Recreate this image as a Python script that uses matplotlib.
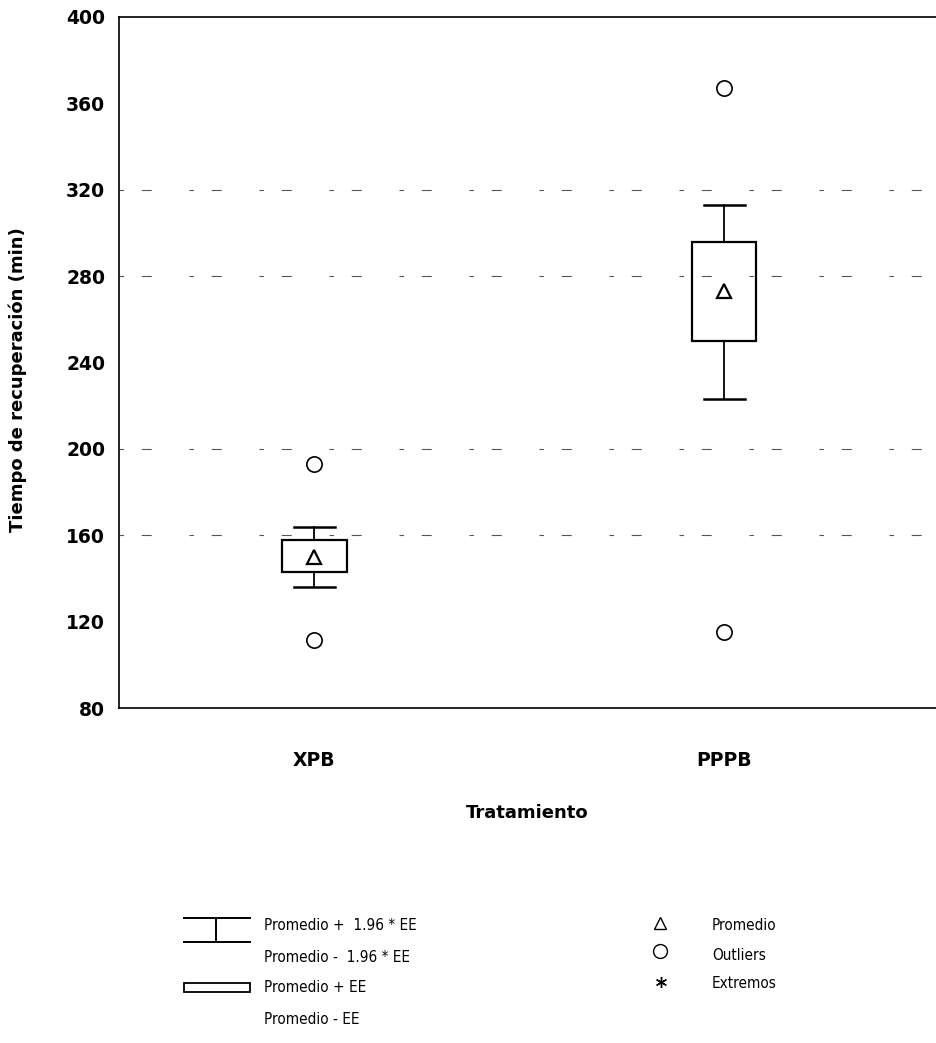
import matplotlib.pyplot as plt
from matplotlib.patches import Rectangle

# datos
tratamientos = ['XPB', 'PPPB']
promedio = [150, 273]
caja_inf = [143, 250]      # Promedio - EE
caja_sup = [158, 296]      # Promedio + EE
bigote_inf = [136, 223]    # Promedio - 1.96 * EE
bigote_sup = [164, 313]    # Promedio + 1.96 * EE
outliers = [[193, 111.5], [367, 115]]
yticks = [80, 120, 160, 200, 240, 280, 320, 360, 400]
grid_y = [160, 200, 280, 320]

W, H = 936, 1043
fig = plt.figure(figsize=(W / 100, H / 100), dpi=100)

# capa de fondo en pixeles para la leyenda
lax = fig.add_axes([0, 0, 1, 1])
lax.set_xlim(0, W)
lax.set_ylim(H, 0)
lax.axis('off')

ax = fig.add_axes([119 / W, 1 - 708 / H, (W - 119) / W, (708 - 17) / H])
ax.patch.set_alpha(0)
pos = [1, 2]
ancho_caja = 0.158
ancho_tope = 0.10

for y in grid_y:
    ax.axhline(y, color='#555555', lw=0.8, dashes=(4, 16, 9, 34), zorder=0)

for i, x in enumerate(pos):
    ax.plot([x, x], [bigote_inf[i], caja_inf[i]], color='black', lw=1.3)
    ax.plot([x, x], [caja_sup[i], bigote_sup[i]], color='black', lw=1.3)
    for yc in (bigote_inf[i], bigote_sup[i]):
        ax.plot([x - ancho_tope / 2, x + ancho_tope / 2], [yc, yc], color='black', lw=1.8)
    ax.add_patch(Rectangle((x - ancho_caja / 2, caja_inf[i]), ancho_caja,
                           caja_sup[i] - caja_inf[i], fill=False, ec='black', lw=1.6, zorder=3))
    ax.plot(x, promedio[i], marker='^', ms=10, mfc='none', mec='black', mew=1.6, zorder=4)
    ax.plot([x] * len(outliers[i]), outliers[i], 'o', ms=11, mfc='none', mec='black', mew=1.2)

ax.set_xlim(0.524, 2.517)
ax.set_ylim(80, 400)
ax.set_yticks(yticks)
ax.set_xticks(pos)
ax.set_xticklabels(tratamientos)
ax.tick_params(length=0)
ax.tick_params(axis='y', pad=10, labelsize=13.5)
ax.tick_params(axis='x', pad=31, labelsize=13.5)
for lab in ax.get_xticklabels() + ax.get_yticklabels():
    lab.set_fontweight('bold')
ax.spines['right'].set_visible(False)
for s in ('left', 'top', 'bottom'):
    ax.spines[s].set_linewidth(1.2)

fig.text(527 / W, 1 - 813 / H, 'Tratamiento', ha='center', va='center',
         fontsize=13, fontweight='bold')
fig.text(18 / W, 1 - 380 / H, 'Tiempo de recuperación (min)', ha='center', va='center',
         rotation=90, fontsize=13, fontweight='bold')

# leyenda
lax.plot([184, 250], [918, 918], color='black', lw=1.4)
lax.plot([184, 250], [942, 942], color='black', lw=1.4)
lax.plot([216, 216], [918, 942], color='black', lw=1.4)
lax.add_patch(Rectangle((184, 983), 66, 9, fill=False, ec='black', lw=1.3))
textos_izq = ['Promedio +  1.96 * EE', 'Promedio -  1.96 * EE', 'Promedio + EE', 'Promedio - EE']
for k, t in enumerate(textos_izq):
    lax.text(264, 926 + 31 * k, t, fontsize=11, fontstretch='condensed',
             va='center', ha='left')

lax.plot(660, 923, marker='^', ms=9, mfc='none', mec='black', mew=1.0)
lax.plot(660, 951, 'o', ms=10, mfc='none', mec='black', mew=1.0)
lax.plot(661, 982, marker=(6, 2, 0), ms=8, color='black', mew=1.0)
for k, t in enumerate(['Promedio', 'Outliers', 'Extremos']):
    lax.text(712, 926 + 29 * k, t, fontsize=11, fontstretch='condensed',
             va='center', ha='left')

fig.savefig('out.png', dpi=100)
